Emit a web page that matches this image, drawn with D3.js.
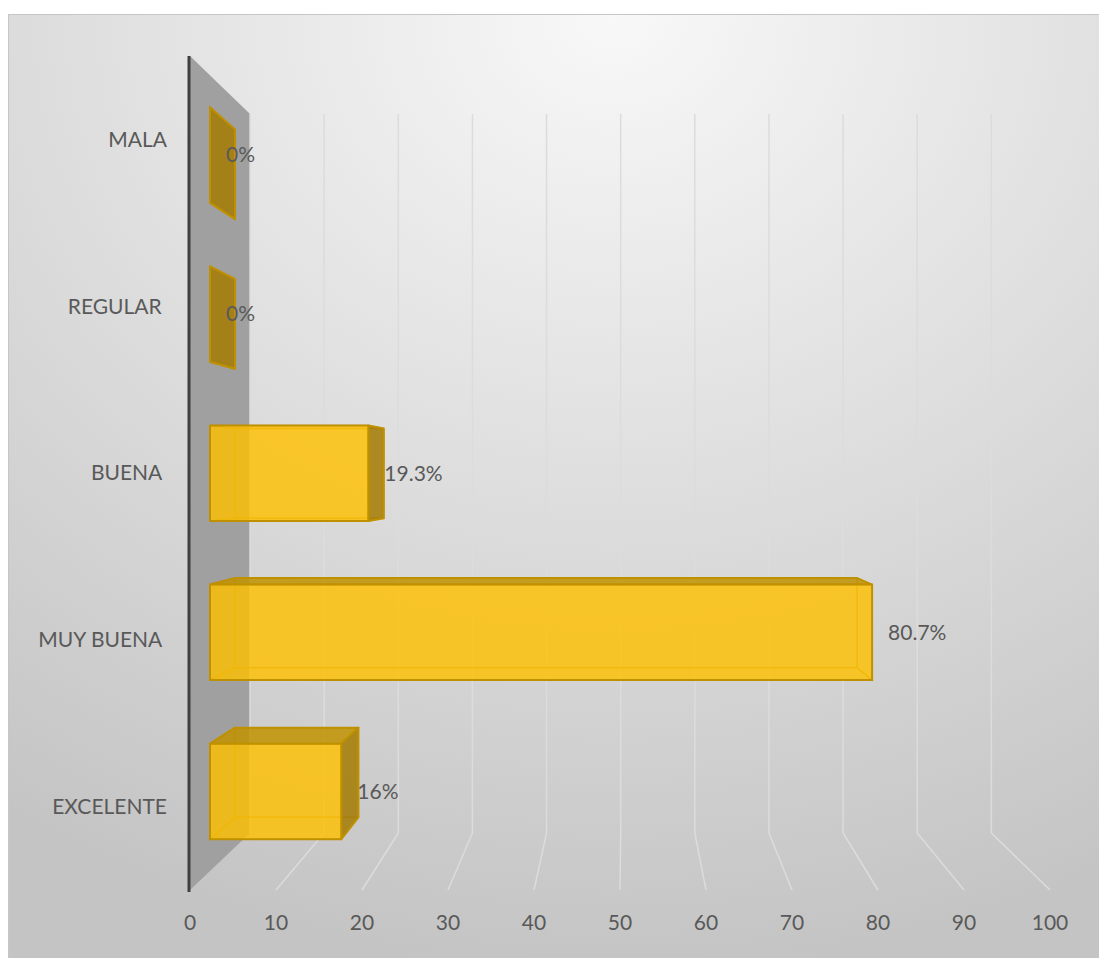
<!DOCTYPE html>
<html>
<head>
<meta charset="utf-8">
<script src="https://cdn.jsdelivr.net/npm/d3@7"></script>
<style>
  html, body { margin: 0; padding: 0; background: #ffffff; }
  svg { display: block; }
  text { font-family: Lato, "Open Sans", sans-serif; fill: #595959; }
</style>
</head>
<body>
<svg id="chart" width="1099" height="958"></svg>
<script>
// Categories (top to bottom) and their values in percent
const categories = ["MALA", "REGULAR ", "BUENA ", "MUY BUENA ", "EXCELENTE"];
const values = [0, 0, 19.3, 80.7, 16];
// Value axis ticks
const tickValues = [0, 10, 20, 30, 40, 50, 60, 70, 80, 90, 100];

const W = 1099, H = 958;
const svg = d3.select("#chart");
const defs = svg.append("defs");

// Chart area background: soft radial gradient, light at the top centre
const bg = defs.append("radialGradient")
  .attr("id", "bgGrad")
  .attr("cx", "0.55").attr("cy", "0").attr("fx", "0.55").attr("fy", "0").attr("r", "1");
bg.append("stop").attr("offset", "0").attr("stop-color", "#f8f8f8");
bg.append("stop").attr("offset", "1").attr("stop-color", "#c4c4c4");

svg.append("rect")
  .attr("x", 8.5).attr("y", 14.5)
  .attr("width", W).attr("height", H)
  .attr("fill", "url(#bgGrad)")
  .attr("stroke", "#c6c6c6");

// Scales on the front plane of the 3D box
const x = d3.scaleLinear().domain([0, 100]).range([190, 1050]);
const y = d3.scaleBand().domain(categories).range([56, 890])
  .paddingInner(0.4).paddingOuter(0.2);
const [yTop, yBot] = y.range();

// Perspective projection: depth d in [0,1] shrinks toward a vanishing point
const VP = [625, 477], K = 0.138;
function P(X, Y, d) {
  const s = 1 - K * d;
  return [VP[0] + (X - VP[0]) * s, VP[1] + (Y - VP[1]) * s];
}
const poly = pts => "M" + pts.map(p => p[0].toFixed(2) + "," + p[1].toFixed(2)).join("L") + "Z";

// Side wall (category axis plane)
svg.append("path")
  .attr("d", poly([P(x(0), yTop, 0), P(x(0), yTop, 1), P(x(0), yBot, 1), P(x(0), yBot, 0)]))
  .attr("fill", "#a0a0a0");

// Gridlines on the back wall and across the floor
const grid = svg.append("g").attr("stroke", "#dcdcdc").attr("stroke-width", 1.5).attr("fill", "none");
grid.selectAll("line.back").data(tickValues).join("line")
  .attr("class", "back")
  .attr("x1", t => P(x(t), yTop, 1)[0]).attr("y1", t => P(x(t), yTop, 1)[1])
  .attr("x2", t => P(x(t), yBot, 1)[0]).attr("y2", t => P(x(t), yBot, 1)[1]);
grid.selectAll("line.floor").data(tickValues.slice(1)).join("line")
  .attr("class", "floor")
  .attr("x1", t => P(x(t), yBot, 1)[0]).attr("y1", t => P(x(t), yBot, 1)[1])
  .attr("x2", t => P(x(t), yBot, 0)[0]).attr("y2", t => P(x(t), yBot, 0)[1]);

// Category axis line
svg.append("line")
  .attr("x1", x(0) - 1).attr("x2", x(0) - 1)
  .attr("y1", yTop).attr("y2", yBot + 2)
  .attr("stroke", "#404040").attr("stroke-width", 3);

// Value axis tick labels
svg.append("g").selectAll("text").data(tickValues).join("text")
  .attr("x", t => x(t)).attr("y", 930)
  .attr("text-anchor", "middle")
  .attr("font-size", 21)
  .text(t => t);

// Category labels
svg.append("g").selectAll("text").data(categories).join("text")
  .attr("x", 167)
  .attr("y", c => P(0, y(c) + y.bandwidth() / 2, 0)[1])
  .attr("dy", "0.35em")
  .attr("text-anchor", "end")
  .attr("font-size", 21)
  .style("white-space", "pre")
  .text(c => c);

// 3D bars
const dFront = 1 / 3, dBack = 0.75;
const bars = categories.map((c, i) => ({ c, v: values[i] }));

const barG = svg.append("g");
bars.forEach(b => {
  const X1 = x(0), X2 = x(b.v);
  const Ya = y(b.c), Yb = Ya + y.bandwidth();
  const f = (X, Y) => P(X, Y, dFront);
  const k = (X, Y) => P(X, Y, dBack);

  const faces = {
    back:   [k(X1, Ya), k(X2, Ya), k(X2, Yb), k(X1, Yb)],
    left:   [f(X1, Ya), k(X1, Ya), k(X1, Yb), f(X1, Yb)],
    right:  [f(X2, Ya), k(X2, Ya), k(X2, Yb), f(X2, Yb)],
    top:    [f(X1, Ya), f(X2, Ya), k(X2, Ya), k(X1, Ya)],
    bottom: [f(X1, Yb), f(X2, Yb), k(X2, Yb), k(X1, Yb)],
    front:  [f(X1, Ya), f(X2, Ya), f(X2, Yb), f(X1, Yb)]
  };
  const visible = {
    top: Ya > VP[1],
    bottom: Yb < VP[1],
    right: X2 < VP[0],
    left: X1 > VP[0]
  };

  const g = barG.append("g");
  // Faces facing away, seen through the translucent bar
  ["back", "left", "right", "top", "bottom"].forEach(name => {
    if (visible[name]) return;
    g.append("path").attr("d", poly(faces[name]))
      .attr("fill", "#ffc000").attr("fill-opacity", 0.16)
      .attr("stroke", "#bf9000").attr("stroke-opacity", 0.45).attr("stroke-width", 1.5);
  });
  // Faces turned toward the viewer
  if (visible.top) {
    g.append("path").attr("d", poly(faces.top))
      .attr("fill", "#be9000").attr("fill-opacity", 0.82)
      .attr("stroke", "#bf9000").attr("stroke-width", 2).attr("stroke-linejoin", "round");
  }
  if (visible.bottom) {
    g.append("path").attr("d", poly(faces.bottom))
      .attr("fill", "#be9000").attr("fill-opacity", 0.82)
      .attr("stroke", "#bf9000").attr("stroke-width", 2).attr("stroke-linejoin", "round");
  }
  if (visible.right) {
    g.append("path").attr("d", poly(faces.right))
      .attr("fill", "#a07800").attr("fill-opacity", 0.82)
      .attr("stroke", "#bf9000").attr("stroke-width", 2).attr("stroke-linejoin", "round");
  }
  g.append("path").attr("d", poly(faces.front))
    .attr("fill", "#ffc000").attr("fill-opacity", 0.78)
    .attr("stroke", "#bf9000").attr("stroke-width", 2).attr("stroke-linejoin", "round");

  // Value label at the outer end of the bar
  const fr = f(X2, (Ya + Yb) / 2);
  svg.append("text")
    .attr("x", fr[0] + 16).attr("y", fr[1])
    .attr("dy", "0.35em")
    .attr("font-size", 21)
    .text(b.v + "%");
});
</script>
</body>
</html>
